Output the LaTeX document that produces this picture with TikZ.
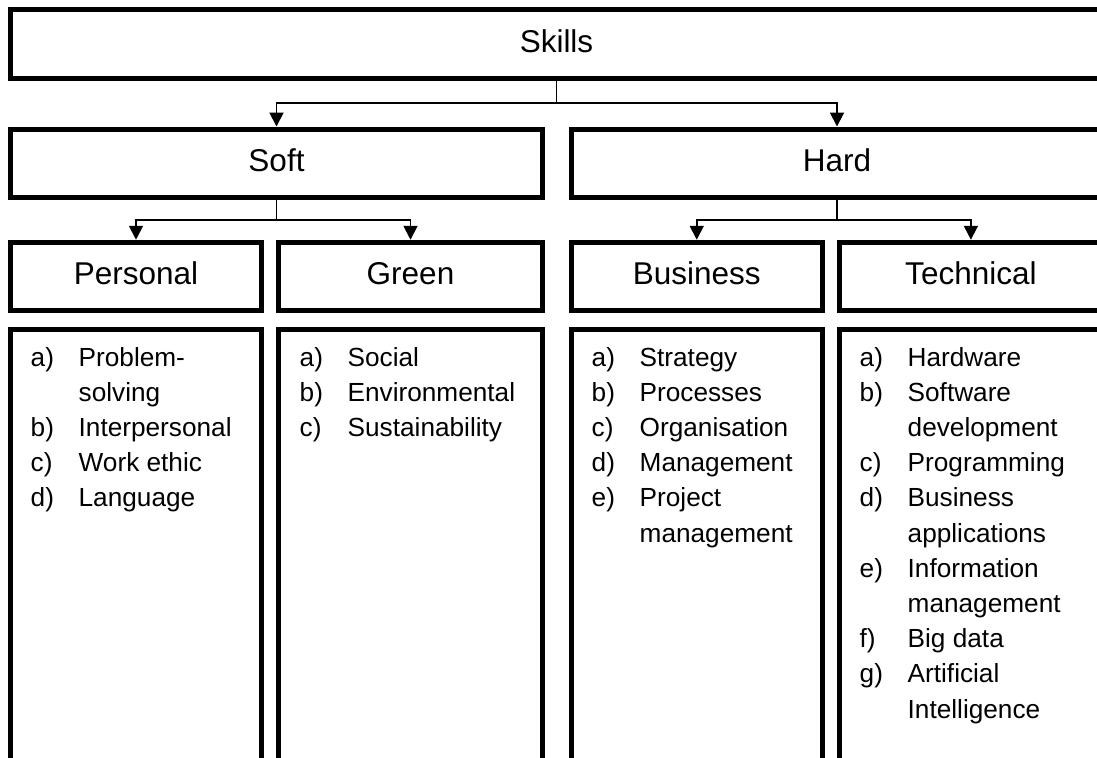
\documentclass[tikz,border=0pt]{standalone}
\usepackage{fontspec}
\setmainfont{Liberation Sans}
\usetikzlibrary{arrows.meta}
\newcommand\lsitem[2]{\makebox[48bp][l]{#1}#2}
\newcommand\lscont[1]{\hspace*{48bp}#1}
\begin{document}
\begin{tikzpicture}[x=1bp,y=-1bp,
  box/.style={draw=black, line width=5bp, inner sep=0pt, rectangle,
    font=\fontsize{31.5bp}{36bp}\selectfont, text height=23bp, text depth=6.5bp},
  listbox/.style={draw=black, line width=5bp, inner sep=0pt, rectangle},
  conn/.style={draw=black, line width=1.9bp},
  tip/.style={-{Triangle[length=14bp,width=14bp]}},
  items/.style={anchor=north west, inner sep=0pt, align=left,
    font=\fontsize{26.2bp}{35.2bp}\selectfont}]
\useasboundingbox (0,0) rectangle (1097,758);
\clip (0,0) rectangle (1097,758);
% header boxes
\node[box, minimum width=1092.5bp, minimum height=69.5bp] (skills) at (556.5,44) {Skills};
\node[box, minimum width=532.5bp, minimum height=68.75bp] (soft) at (276.5,163.4) {Soft};
\node[box, minimum width=531.5bp, minimum height=68.75bp] (hard) at (837,163.4) {Hard};
\node[box, minimum width=251.5bp, minimum height=68.5bp] (personal) at (136,276.5) {Personal};
\node[box, minimum width=264.5bp, minimum height=68.5bp] (green) at (410.5,276.5) {Green};
\node[box, minimum width=251bp, minimum height=68.5bp] (business) at (696.75,276.5) {Business};
\node[box, minimum width=263.75bp, minimum height=68.5bp] (technical) at (970.9,276.5) {Technical};
% list boxes
\node[listbox, minimum width=251.5bp, minimum height=470.75bp] (lpersonal) at (136,564.6) {};
\node[listbox, minimum width=264.5bp, minimum height=470.75bp] (lgreen) at (410.5,564.6) {};
\node[listbox, minimum width=251bp, minimum height=470.75bp] (lbusiness) at (696.75,564.6) {};
\node[listbox, minimum width=263.75bp, minimum height=470.75bp] (ltechnical) at (970.9,564.6) {};
% connectors
\draw[conn] (skills.south) -- ++(0,22) coordinate (j1);
\draw[conn, tip] (j1) -| (soft.north);
\draw[conn, tip] (j1) -| (hard.north);
\draw[conn] (soft.south) -- ++(0,20) coordinate (j2);
\draw[conn, tip] (j2) -| (personal.north);
\draw[conn, tip] (j2) -| (green.north);
\draw[conn] (hard.south) -- ++(0,20) coordinate (j3);
\draw[conn, tip] (j3) -| (business.north);
\draw[conn, tip] (j3) -| (technical.north);
% lists
\node[items] (tpersonal) at (30.5,347) {\lsitem{a)}{Problem-}\\ \lscont{solving}\\ \lsitem{b)}{Interpersonal}\\ \lsitem{c)}{Work ethic}\\ \lsitem{d)}{Language}};
\node[items] (tgreen) at (299.5,347) {\lsitem{a)}{Social}\\ \lsitem{b)}{Environmental}\\ \lsitem{c)}{Sustainability}};
\node[items] (tbusiness) at (591.5,347) {\lsitem{a)}{Strategy}\\ \lsitem{b)}{Processes}\\ \lsitem{c)}{Organisation}\\ \lsitem{d)}{Management}\\ \lsitem{e)}{Project}\\ \lscont{management}};
\node[items] (ttechnical) at (859.5,347) {\lsitem{a)}{Hardware}\\ \lsitem{b)}{Software}\\ \lscont{development}\\ \lsitem{c)}{Programming}\\ \lsitem{d)}{Business}\\ \lscont{applications}\\ \lsitem{e)}{Information}\\ \lscont{management}\\ \lsitem{f)}{Big data}\\ \lsitem{g)}{Artificial}\\ \lscont{Intelligence}};
\end{tikzpicture}
\end{document}
